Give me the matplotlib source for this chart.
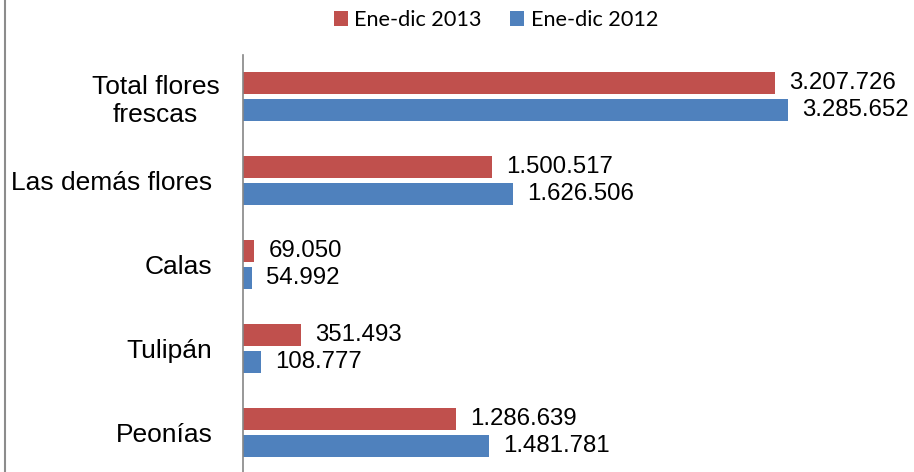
import matplotlib.pyplot as plt
import matplotlib.transforms as mtransforms
from matplotlib.lines import Line2D
import numpy as np

plt.rcParams['font.family'] = ['Liberation Sans', 'DejaVu Sans']

categorias = ['Peonías', 'Tulipán', 'Calas', 'Las demás flores', 'Total flores\nfrescas']
ene_dic_2013 = [1286639, 351493, 69050, 1500517, 3207726]
ene_dic_2012 = [1481781, 108777, 54992, 1626506, 3285652]
etiquetas_2013 = ['1.286.639', '351.493', '69.050', '1.500.517', '3.207.726']
etiquetas_2012 = ['1.481.781', '108.777', '54.992', '1.626.506', '3.285.652']

rojo = '#C0504D'
azul = '#4F81BD'

fig = plt.figure(figsize=(9.14, 4.72), dpi=100)
ax = fig.add_axes([243 / 914, 0, 671 / 914, 417 / 472])

y = np.arange(len(categorias))
alto = 0.265
off = 0.16
b13 = ax.barh(y + off, ene_dic_2013, height=alto, color=rojo, label='Ene-dic 2013')
b12 = ax.barh(y - off, ene_dic_2012, height=alto, color=azul, label='Ene-dic 2012')
ax.bar_label(b13, labels=etiquetas_2013, padding=10, fontsize=17.3)
ax.bar_label(b12, labels=etiquetas_2012, padding=10, fontsize=17.3)

ax.set_xlim(0, 4046000)
ax.set_ylim(-0.47, 4.494)
ax.set_yticks(y)
ax.set_yticklabels(categorias, fontsize=19, multialignment='center')
ax.tick_params(axis='y', length=0, pad=22)
ax.set_xticks([])
for s in ['top', 'right', 'bottom']:
    ax.spines[s].set_visible(False)
ax.spines['left'].set_color('#868686')
ax.spines['left'].set_linewidth(1.2)

# the wrapped label sits a little further right
lbl = ax.get_yticklabels()[-1]
lbl.set_transform(lbl.get_transform() + mtransforms.ScaledTranslation(7 / 100, 0, fig.dpi_scale_trans))

fig.legend(handles=[b13, b12], loc='center', bbox_to_anchor=(496 / 914, 1 - 20 / 472),
           ncol=2, frameon=False, prop={'family': 'Lato', 'size': 15.6},
           handlelength=0.65, handleheight=0.65, handletextpad=0.3, columnspacing=1.3)

fig.add_artist(Line2D([5 / 914, 5 / 914], [0, 1], transform=fig.transFigure,
                      color='#8C8C8C', linewidth=1.5))

fig.savefig('out.png', dpi=100)
